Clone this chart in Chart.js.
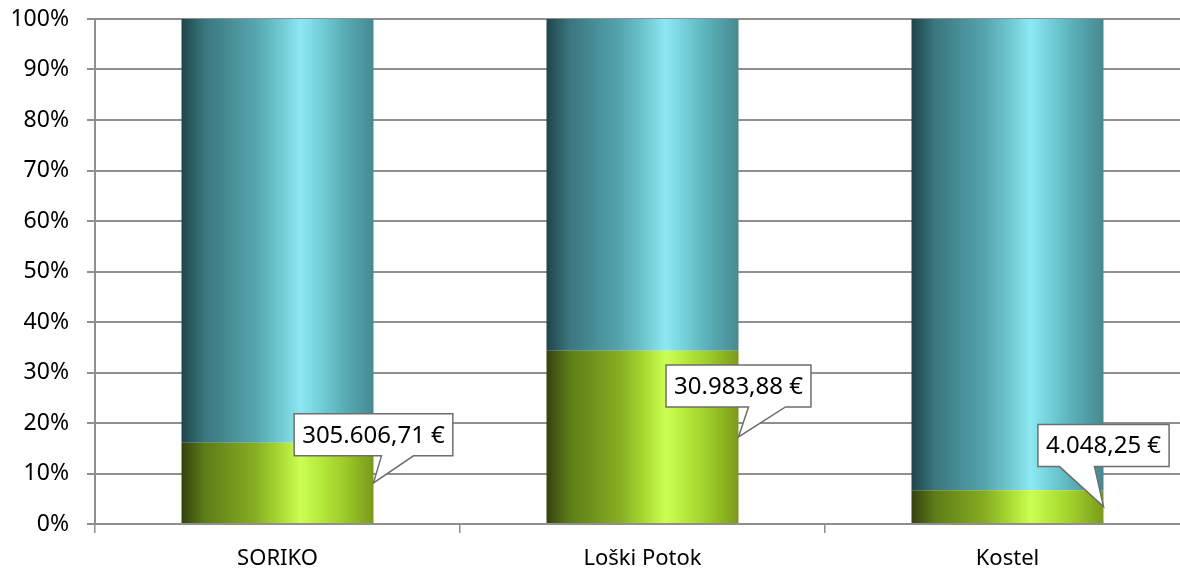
<!DOCTYPE html>
<html>
<head>
<meta charset="utf-8">
<script src="https://cdn.jsdelivr.net/npm/chart.js@4"></script>
<style>
  html, body { margin: 0; padding: 0; background: #fff; overflow: hidden; }
  #wrap { width: 1192px; height: 571px; }
</style>
</head>
<body>
<div id="wrap"><canvas id="chart" width="1192" height="571"></canvas></div>
<script>
// values (share of 100%)
const categories = ['SORIKO', 'Loški Potok', 'Kostel'];
const greenShare = [16.1, 34.3, 6.7];
const blueShare = [83.9, 65.7, 93.3];
const amountLabels = ['305.606,71 €', '30.983,88 €', '4.048,25 €'];

const BAR_PCT = 0.526;
const FONT = '"Noto Sans", sans-serif';
const GRID = '#8f8f8f';

// callout look: gap from tip to box bottom, wedge base relative to tip x
const calloutStyle = [
  { gap: 27, wedge: [8, 40] },
  { gap: 30, wedge: [10, 47] },
  { gap: 40, wedge: [-44, -9] }
];

const blueStops = [[0, '#1f454b'], [0.12, '#3a767d'], [0.38, '#55a4ad'], [0.5, '#6cc4cd'], [0.62, '#8de8f1'], [0.72, '#73d0d9'], [0.85, '#58adb5'], [1, '#468990']];
const greenStops = [[0, '#34420e'], [0.12, '#5d7c18'], [0.38, '#86ad22'], [0.5, '#a6d530'], [0.62, '#cbff52'], [0.72, '#b6ea3c'], [0.85, '#9dca28'], [1, '#7a9a1a']];

function cylinder(stops) {
  return (ctx) => {
    const chart = ctx.chart;
    const xs = chart.scales.x;
    if (ctx.dataIndex === undefined || !xs || !xs.width) return stops[4][1];
    const w = xs.width / categories.length * BAR_PCT;
    const cx = xs.getPixelForValue(ctx.dataIndex);
    const g = chart.ctx.createLinearGradient(cx - w / 2, 0, cx + w / 2, 0);
    stops.forEach(s => g.addColorStop(s[0], s[1]));
    return g;
  };
}

const callouts = {
  id: 'callouts',
  afterDraw(chart) {
    const c = chart.ctx;
    const meta = chart.getDatasetMeta(0);
    c.save();
    c.font = '24px ' + FONT;
    meta.data.forEach((bar, i) => {
      const st = calloutStyle[i];
      const tipX = bar.x + bar.width / 2;
      const tipY = (bar.y + bar.base) / 2;
      const tw = c.measureText(amountLabels[i]).width;
      const bw = tw + 16, bh = 42;
      const left = tipX - bw / 2, bottom = tipY - st.gap, top = bottom - bh;
      const right = left + bw;
      c.beginPath();
      c.moveTo(left, top);
      c.lineTo(right, top);
      c.lineTo(right, bottom);
      c.lineTo(tipX + st.wedge[1], bottom);
      c.lineTo(tipX, tipY);
      c.lineTo(tipX + st.wedge[0], bottom);
      c.lineTo(left, bottom);
      c.closePath();
      c.fillStyle = '#fff';
      c.fill();
      c.strokeStyle = '#6e6e6e';
      c.lineWidth = 1.5;
      c.stroke();
      c.fillStyle = '#000';
      c.textAlign = 'center';
      c.textBaseline = 'middle';
      c.fillText(amountLabels[i], (left + right) / 2, top + bh / 2 + 1);
    });
    c.restore();
  }
};

new Chart(document.getElementById('chart'), {
  type: 'bar',
  data: {
    labels: categories,
    datasets: [
      { label: 'green', data: greenShare, backgroundColor: cylinder(greenStops) },
      { label: 'blue', data: blueShare, backgroundColor: cylinder(blueStops) }
    ]
  },
  options: {
    responsive: false,
    animation: false,
    layout: { padding: { top: 19, right: 2, left: 0, bottom: 0 } },
    datasets: { bar: { categoryPercentage: 1, barPercentage: BAR_PCT, borderWidth: 0 } },
    plugins: { legend: { display: false }, tooltip: { enabled: false } },
    scales: {
      x: {
        stacked: true,
        offset: true,
        afterFit: s => { s.height = 47; s.paddingLeft = 0; s.paddingRight = 0; },
        grid: { offset: true, drawOnChartArea: false, drawTicks: true, tickLength: 9, color: GRID, lineWidth: 1.5 },
        border: { color: GRID, width: 2 },
        ticks: { color: '#000', font: { family: FONT, size: 22 }, padding: 13 }
      },
      y: {
        stacked: true,
        min: 0,
        max: 100,
        afterFit: s => { s.width = 95; s.paddingTop = 0; s.paddingBottom = 0; },
        grid: { color: GRID, lineWidth: 2, tickLength: 8 },
        border: { color: GRID, width: 2 },
        ticks: { stepSize: 10, color: '#000', font: { family: FONT, size: 23 }, padding: 18, callback: v => v + '%' }
      }
    }
  },
  plugins: [callouts]
});
</script>
</body>
</html>
